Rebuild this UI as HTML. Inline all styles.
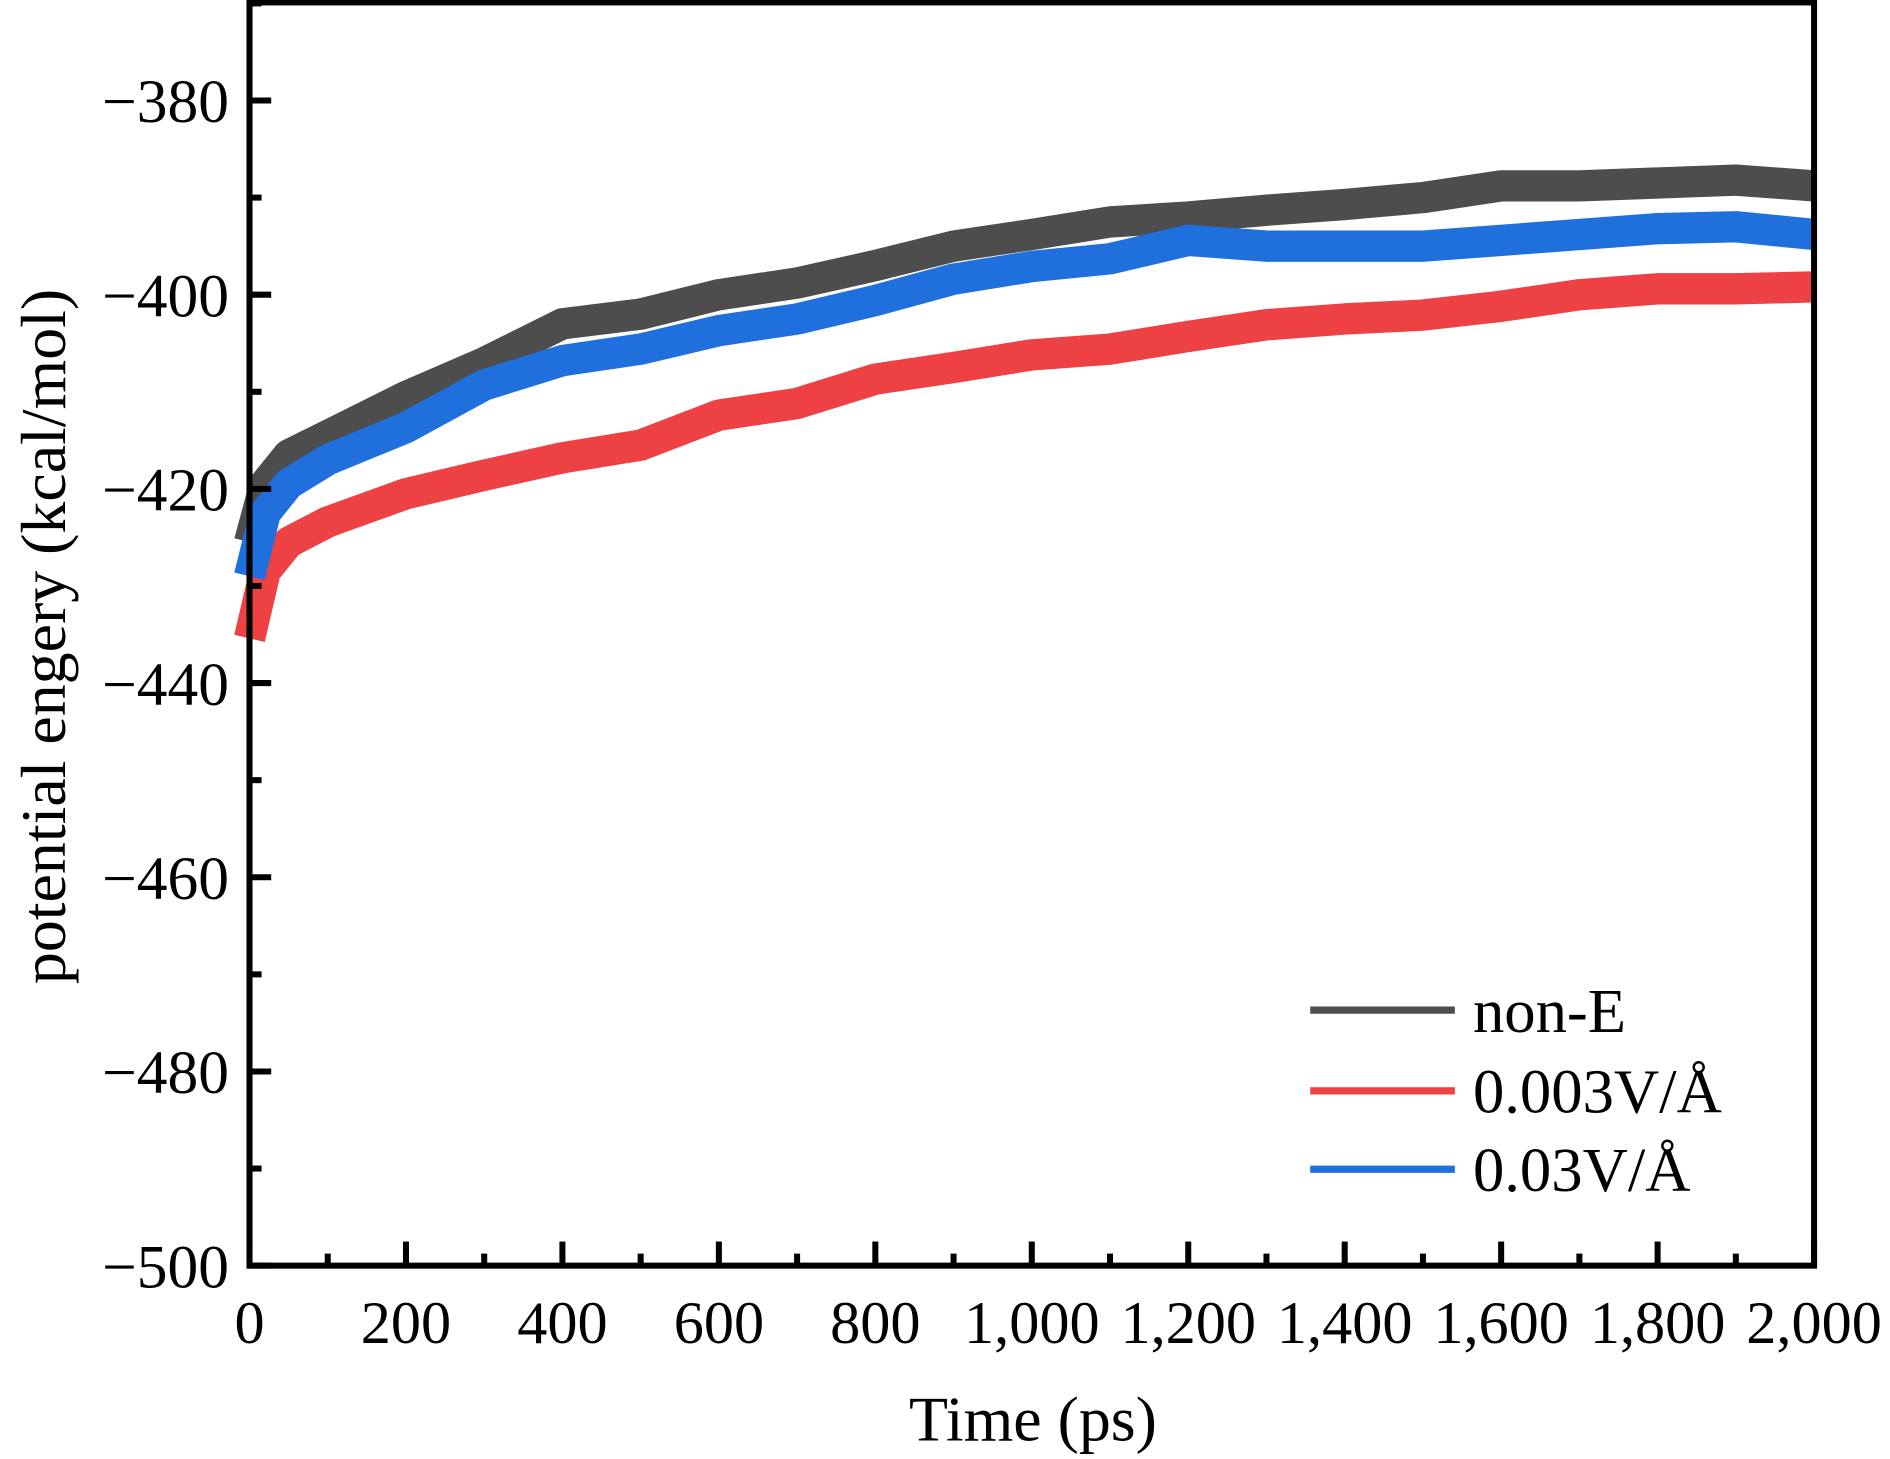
<!DOCTYPE html>
<html><head><meta charset="utf-8"><style>
html,body{margin:0;padding:0;background:#fff;}
svg{display:block;font-family:"Liberation Serif",serif;}
</style></head><body>
<svg id="chart" width="1890" height="1459" viewBox="0 0 1568 1210.4" xmlns="http://www.w3.org/2000/svg">
<g id="series"></g>
<g id="axes"></g>
<text transform="translate(54,528) rotate(-90)" text-anchor="middle" font-size="53">potential engery (kcal/mol)</text>
<text x="857" y="1195" text-anchor="middle" font-size="53">Time (ps)</text>
<g>
<line x1="1087" x2="1207" y1="838" y2="838" stroke="#4d4d4d" stroke-width="6"/>
<text x="1222" y="856" font-size="52">non-E</text>
<line x1="1087" x2="1207" y1="905" y2="905" stroke="#ee4143" stroke-width="6"/>
<text x="1222" y="923" font-size="52">0.003V/Å</text>
<line x1="1087" x2="1207" y1="970" y2="970" stroke="#1f6fdc" stroke-width="6"/>
<text x="1222" y="988" font-size="52">0.03V/Å</text>
</g>
</svg>
<script>
const times = [0,20,50,100,200,300,400,500,600,700,800,900,1000,1100,1200,1300,1400,1500,1600,1700,1800,1900,2000];
const nonE = [-425.5,-419.5,-416.5,-414.5,-410.5,-407,-403,-402,-400,-398.8,-397,-395,-393.8,-392.5,-392,-391.3,-390.7,-390,-388.8,-388.8,-388.5,-388.2,-388.8];
const e0003 = [-435.4,-428.5,-425.5,-423.4,-420.5,-418.6,-416.8,-415.5,-412.4,-411.2,-408.7,-407.5,-406.2,-405.6,-404.3,-403.1,-402.5,-402.1,-401.2,-400,-399.4,-399.4,-399.2];
const e003 = [-429,-422.5,-419.5,-417,-413.7,-409.3,-406.8,-405.6,-403.7,-402.5,-400.6,-398.4,-397.1,-396.3,-394.4,-395,-395,-395,-394.4,-393.8,-393.2,-393,-393.8];
const yTicks = [-380,-400,-420,-440,-460,-480,-500];
const xTicks = [0,200,400,600,800,1000,1200,1400,1600,1800,2000];
const xTickLabels = ["0","200","400","600","800","1,000","1,200","1,400","1,600","1,800","2,000"];

const L=207,R=1505,T=2,B=1050;
const xMin=0,xMax=2000,yMin=-500,yMax=-369.9;
const sx=v=>L+(v-xMin)/(xMax-xMin)*(R-L);
const sy=v=>B-(v-yMin)/(yMax-yMin)*(B-T);
const NS="http://www.w3.org/2000/svg";
function mk(tag,attrs,parent){const e=document.createElementNS(NS,tag);for(const k in attrs)e.setAttribute(k,attrs[k]);parent.appendChild(e);return e;}
const sg=document.getElementById('series');
function drawSeries(vals,color,name){
  const d=vals.map((v,i)=>(i?'L':'M')+sx(times[i]).toFixed(1)+','+sy(v).toFixed(1)).join(' ');
  const p=mk('path',{d:d,fill:'none',stroke:color,'stroke-width':26,'stroke-linejoin':'round'},sg);
  
  
}
drawSeries(nonE,'#4d4d4d','series-non-e');
drawSeries(e0003,'#ee4143','series-0003');
drawSeries(e003,'#1f6fdc','series-003');

const ag=document.getElementById('axes');
const frame=mk('rect',{x:L,y:T,width:R-L,height:B-T,fill:'none',stroke:'#000','stroke-width':5},ag);


for(let v=-500;v<=-370;v+=10){
  const major=yTicks.includes(v);
  const t=mk('line',{x1:L,x2:L+(major?18:10),y1:sy(v),y2:sy(v),stroke:'#000','stroke-width':5},ag);
  
  
}
yTicks.forEach(v=>{
  const t=mk('text',{x:190,y:sy(v)+18,'text-anchor':'end','font-size':51},ag);
  t.textContent='\u2212'+Math.abs(v);
  
  
});
for(let v=0;v<=2000;v+=100){
  const major=v%200===0;
  const t=mk('line',{x1:sx(v),x2:sx(v),y1:B,y2:B-(major?20:10),stroke:'#000','stroke-width':5},ag);
  
  
}
xTicks.forEach((v,i)=>{
  const t=mk('text',{x:sx(v),y:1114,'text-anchor':'middle','font-size':50},ag);
  t.textContent=xTickLabels[i];
  
  
});
</script>
</body></html>
